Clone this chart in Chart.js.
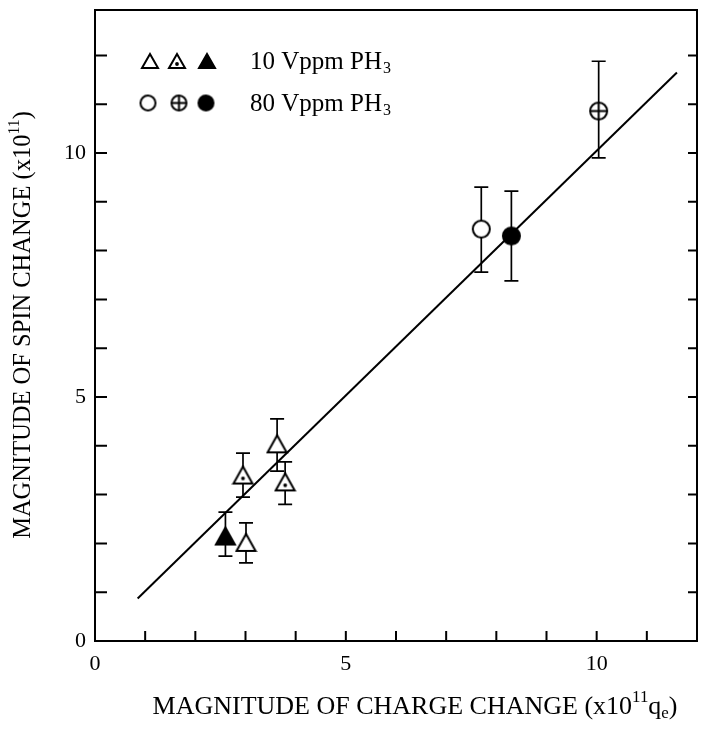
<!DOCTYPE html>
<html>
<head>
<meta charset="utf-8">
<script src="https://cdn.jsdelivr.net/npm/chart.js@4.4.0/dist/chart.umd.min.js"></script>
<style>
  body { margin: 0; background: #fff; }
  canvas { display: block; }
</style>
</head>
<body>
<canvas id="spinChart" width="702" height="729"></canvas>
<script>
// values (x10^11)
const triOpenX = [3.01, 3.63];
const triOpenY = [2.0, 4.02];
const triOpenLo = [1.6, 3.48];
const triOpenHi = [2.42, 4.55];

const triDotX = [2.95, 3.79];
const triDotY = [3.38, 3.24];
const triDotLo = [2.95, 2.8];
const triDotHi = [3.85, 3.67];

const triFillX = [2.6];
const triFillY = [2.13];
const triFillLo = [1.74];
const triFillHi = [2.64];

const circOpenX = [7.7];
const circOpenY = [8.44];
const circOpenLo = [7.56];
const circOpenHi = [9.3];

const circCrossX = [10.04];
const circCrossY = [10.86];
const circCrossLo = [9.9];
const circCrossHi = [11.88];

const circFillX = [8.3];
const circFillY = [8.3];
const circFillLo = [7.38];
const circFillHi = [9.22];

const fitX = [0.85, 11.6];
const fitY = [0.87, 11.65];

const xLabels = [0, 5, 10];
const yLabels = [0, 5, 10];

const serif = "'Liberation Serif', 'DejaVu Serif', serif";

function makeMarker(kind, size) {
    const c = document.createElement('canvas');
    c.width = size + 4;
    c.height = size + 4;
    const g = c.getContext('2d');
    const w = c.width, h = c.height, m = w / 2;
    g.lineWidth = 2;
    g.strokeStyle = '#000';
    g.fillStyle = kind.indexOf('Fill') >= 0 ? '#000' : '#fff';
    g.beginPath();
    if (kind.indexOf('tri') === 0) {
        g.moveTo(m, 2);
        g.lineTo(w - 2, h - 4);
        g.lineTo(2, h - 4);
        g.closePath();
    } else {
        g.arc(m, m, size / 2, 0, Math.PI * 2);
    }
    g.fill();
    g.stroke();
    if (kind === 'triDot') {
        g.fillStyle = '#000';
        g.beginPath();
        g.arc(m, h * 0.6, 1.9, 0, Math.PI * 2);
        g.fill();
    }
    if (kind === 'circCross') {
        g.beginPath();
        g.moveTo(2, m); g.lineTo(w - 2, m);
        g.moveTo(m, 2); g.lineTo(m, h - 2);
        g.stroke();
    }
    return c;
}

const kinds = ['triOpen', 'triDot', 'triFill', 'circOpen', 'circCross', 'circFill'];
const markers = {}, legendMarkers = {};
kinds.forEach(k => {
    markers[k] = makeMarker(k, k.indexOf('tri') === 0 ? 19 : 17);
    legendMarkers[k] = makeMarker(k, k.indexOf('tri') === 0 ? 16 : 15);
});

function pts(xs, ys) {
    return xs.map((x, i) => ({ x: x, y: ys[i] }));
}

function markerSet(kind, xs, ys, lo, hi) {
    return {
        type: 'scatter',
        data: pts(xs, ys),
        errLo: lo,
        errHi: hi,
        pointStyle: markers[kind],
        pointRadius: 9
    };
}

const errorBars = {
    id: 'errorBars',
    beforeDatasetsDraw(chart) {
        const ctx = chart.ctx, xs = chart.scales.x, ys = chart.scales.y;
        ctx.save();
        ctx.strokeStyle = '#000';
        ctx.lineWidth = 1.7;
        chart.data.datasets.forEach(ds => {
            if (!ds.errLo) return;
            ds.data.forEach((p, i) => {
                const px = xs.getPixelForValue(p.x);
                const top = ys.getPixelForValue(ds.errHi[i]);
                const bot = ys.getPixelForValue(ds.errLo[i]);
                ctx.beginPath();
                ctx.moveTo(px, top); ctx.lineTo(px, bot);
                ctx.moveTo(px - 7, top); ctx.lineTo(px + 7, top);
                ctx.moveTo(px - 7, bot); ctx.lineTo(px + 7, bot);
                ctx.stroke();
            });
        });
        ctx.restore();
    }
};

function richText(ctx, parts, x, y, size) {
    // parts: [text, 'n' | 'sup' | 'sub']
    let total = 0;
    parts.forEach(p => {
        ctx.font = (p[1] === 'n' ? size : size * 0.65) + 'px ' + serif;
        total += ctx.measureText(p[0]).width;
    });
    let cx = x - total / 2;
    parts.forEach(p => {
        ctx.font = (p[1] === 'n' ? size : size * 0.65) + 'px ' + serif;
        let dy = 0;
        if (p[1] === 'sup') dy = -size * 0.38;
        if (p[1] === 'sub') dy = size * 0.25;
        ctx.fillText(p[0], cx, y + dy);
        cx += ctx.measureText(p[0]).width;
    });
}

const frame = {
    id: 'frame',
    afterDraw(chart) {
        const ctx = chart.ctx, a = chart.chartArea;
        const xs = chart.scales.x, ys = chart.scales.y;
        ctx.save();
        ctx.strokeStyle = '#000';
        ctx.lineWidth = 2;
        ctx.strokeRect(a.left, a.top, a.right - a.left, a.bottom - a.top);
        ctx.beginPath();
        for (let v = 1; v <= 12; v++) {
            const py = ys.getPixelForValue(v);
            ctx.moveTo(a.left, py); ctx.lineTo(a.left + 12, py);
            ctx.moveTo(a.right, py); ctx.lineTo(a.right - 9, py);
        }
        for (let v = 1; v <= 11; v++) {
            const px = xs.getPixelForValue(v);
            ctx.moveTo(px, a.bottom); ctx.lineTo(px, a.bottom - 10);
        }
        ctx.stroke();

        // legend
        ctx.fillStyle = '#000';
        ctx.textBaseline = 'middle';
        ctx.drawImage(legendMarkers.triOpen, 150 - 10, 62 - 10);
        ctx.drawImage(legendMarkers.triDot, 177 - 10, 62 - 10);
        ctx.drawImage(legendMarkers.triFill, 207 - 10, 62 - 10);
        ctx.drawImage(legendMarkers.circOpen, 148 - 9.5, 103 - 9.5);
        ctx.drawImage(legendMarkers.circCross, 179 - 9.5, 103 - 9.5);
        ctx.drawImage(legendMarkers.circFill, 206 - 9.5, 103 - 9.5);
        ctx.textAlign = 'left';
        [['10 Vppm PH', 62], ['80 Vppm PH', 104]].forEach(r => {
            ctx.font = '25px ' + serif;
            ctx.fillText(r[0], 250, r[1]);
            const w = ctx.measureText(r[0]).width;
            ctx.font = '16px ' + serif;
            ctx.fillText('3', 250 + w + 1, r[1] + 7);
        });

        // axis titles
        ctx.textAlign = 'left';
        ctx.textBaseline = 'middle';
        richText(ctx, [['MAGNITUDE OF CHARGE CHANGE (x10', 'n'], ['11', 'sup'], ['q', 'n'], ['e', 'sub'], [')', 'n']], 415, 707, 26);
        ctx.translate(24, 325);
        ctx.rotate(-Math.PI / 2);
        richText(ctx, [['MAGNITUDE OF SPIN CHANGE (x10', 'n'], ['11', 'sup'], [')', 'n']], 0, 0, 24.5);
        ctx.restore();
    }
};

new Chart(document.getElementById('spinChart'), {
    data: {
        datasets: [
            markerSet('triOpen', triOpenX, triOpenY, triOpenLo, triOpenHi),
            markerSet('triDot', triDotX, triDotY, triDotLo, triDotHi),
            markerSet('triFill', triFillX, triFillY, triFillLo, triFillHi),
            markerSet('circOpen', circOpenX, circOpenY, circOpenLo, circOpenHi),
            markerSet('circCross', circCrossX, circCrossY, circCrossLo, circCrossHi),
            markerSet('circFill', circFillX, circFillY, circFillLo, circFillHi),
            {
                type: 'line',
                data: pts(fitX, fitY),
                borderColor: '#000',
                borderWidth: 2,
                pointRadius: 0,
                fill: false
            }
        ]
    },
    options: {
        responsive: false,
        animation: false,
        layout: { autoPadding: false, padding: { top: 10, right: 5, left: 0, bottom: 0 } },
        plugins: {
            legend: { display: false },
            tooltip: { enabled: false }
        },
        scales: {
            x: {
                type: 'linear',
                min: 0,
                max: 12,
                grid: { display: false, drawTicks: false },
                border: { display: false },
                ticks: {
                    stepSize: 1,
                    autoSkip: false,
                    maxRotation: 0,
                    padding: 10,
                    color: '#000',
                    font: { family: serif, size: 22 },
                    callback: v => xLabels.includes(v) ? v : ''
                },
                afterFit: s => {
                    s.height = 88;
                    s.paddingLeft = 0;
                    s.paddingRight = 0;
                }
            },
            y: {
                type: 'linear',
                min: 0,
                max: 12.93,
                grid: { display: false, drawTicks: false },
                border: { display: false },
                ticks: {
                    stepSize: 1,
                    autoSkip: false,
                    padding: 9,
                    color: '#000',
                    font: { family: serif, size: 22 },
                    callback: v => yLabels.includes(v) ? v : ''
                },
                afterFit: s => {
                    s.width = 95;
                    s.paddingTop = 0;
                    s.paddingBottom = 0;
                }
            }
        }
    },
    plugins: [errorBars, frame]
});
</script>
</body>
</html>
